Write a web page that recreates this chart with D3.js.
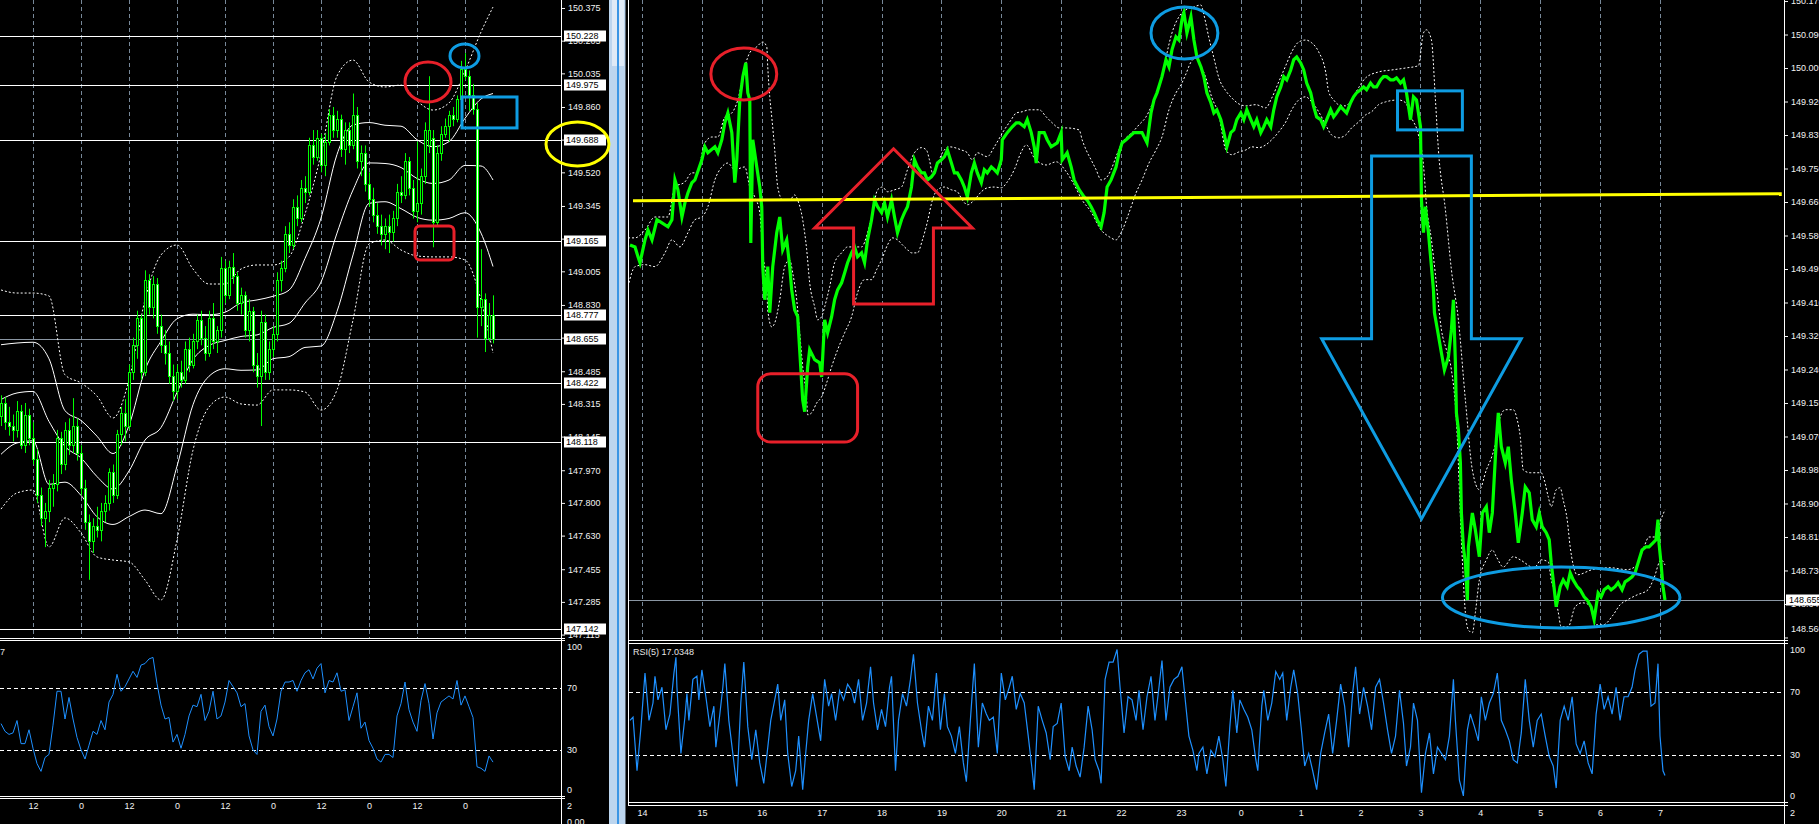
<!DOCTYPE html>
<html><head><meta charset="utf-8">
<script src="https://cdn.jsdelivr.net/npm/d3@7/dist/d3.min.js"></script>
<style>
html,body{margin:0;padding:0;background:#000;overflow:hidden;}
svg{display:block;}
text{font-family:"Liberation Sans",Arial,sans-serif;font-size:9px;}
</style></head><body>
<svg id="chart" width="1819" height="824"></svg>
<script>
// ---------------- LEFT CHART (H1 candles) ----------------
const leftOpen=[148.25,148.32,148.22,148.20,148.18,148.28,148.10,148.26,148.14,148.03,147.84,147.72,147.76,147.88,147.90,148.14,148.00,148.18,148.10,148.20,148.06,147.88,147.70,147.60,147.68,147.66,147.76,147.80,147.96,147.84,148.16,148.27,148.20,148.48,148.62,148.76,148.48,148.96,148.82,148.94,148.72,148.62,148.58,148.46,148.38,148.48,148.44,148.60,148.52,148.64,148.75,148.66,148.58,148.76,148.64,148.70,149.02,148.88,149.03,148.98,148.84,148.88,148.70,148.80,148.52,148.46,148.74,148.48,148.60,148.68,148.96,149.02,149.20,149.14,149.34,149.28,149.44,149.42,149.66,149.60,149.70,149.56,149.68,149.82,149.74,149.80,149.64,149.74,149.66,149.82,149.58,149.62,149.46,149.38,149.30,149.24,149.20,149.24,149.21,149.28,149.42,149.40,149.58,149.44,149.32,149.36,149.50,149.66,149.70,149.26,149.62,149.72,149.76,149.82,149.80,149.90,150.06,150.02,149.92,149.85,148.82,148.86,148.66,148.78];
const leftHigh=[148.36,148.35,148.30,148.26,148.33,148.31,148.32,148.29,148.22,148.08,147.88,147.80,147.92,147.95,148.18,148.17,148.22,148.24,148.345,148.24,148.10,147.92,147.74,147.72,147.78,147.80,147.84,147.98,148.00,148.18,148.30,148.34,148.52,148.66,148.80,148.78,149.01,148.99,148.98,148.97,148.78,148.70,148.64,148.52,148.52,148.54,148.64,148.66,148.68,148.78,148.80,148.72,148.80,148.84,148.72,149.08,149.06,149.06,149.10,149.00,148.92,148.90,148.86,148.82,148.58,148.80,148.78,148.64,148.72,149.00,149.06,149.24,149.26,149.38,149.40,149.48,149.50,149.70,149.74,149.74,149.72,149.72,149.85,149.86,149.84,149.82,149.78,149.78,149.93,149.86,149.66,149.66,149.52,149.44,149.36,149.30,149.28,149.30,149.32,149.46,149.50,149.62,149.60,149.48,149.68,149.54,149.78,150.02,149.74,149.66,149.76,149.80,149.84,149.86,149.92,150.10,150.14,150.05,149.98,149.88,149.12,148.89,148.84,148.88];
const leftLow=[148.20,148.18,148.15,148.12,148.14,148.08,148.06,148.10,148.00,147.80,147.68,147.57,147.70,147.78,147.86,147.95,147.97,148.05,148.06,148.02,147.84,147.66,147.40,147.54,147.62,147.60,147.70,147.76,147.80,147.82,148.10,148.12,148.18,148.44,148.55,148.44,148.46,148.78,148.76,148.68,148.58,148.52,148.42,148.33,148.34,148.40,148.42,148.48,148.50,148.60,148.62,148.54,148.56,148.60,148.58,148.66,148.84,148.86,148.94,148.80,148.78,148.66,148.64,148.48,148.40,148.20,148.44,148.44,148.56,148.64,148.90,149.00,149.10,149.12,149.24,149.26,149.36,149.40,149.56,149.58,149.52,149.50,149.66,149.70,149.70,149.60,149.56,149.62,149.64,149.54,149.50,149.42,149.34,149.26,149.20,149.14,149.12,149.10,149.16,149.24,149.36,149.38,149.40,149.28,149.26,149.30,149.46,149.62,149.13,149.24,149.58,149.70,149.68,149.76,149.78,149.88,150.00,149.84,149.82,148.66,148.72,148.585,148.64,148.63];
const leftClose=[148.32,148.22,148.20,148.18,148.28,148.10,148.26,148.14,148.03,147.84,147.72,147.76,147.88,147.90,148.14,148.00,148.18,148.10,148.20,148.06,147.88,147.70,147.60,147.68,147.66,147.76,147.80,147.96,147.84,148.16,148.27,148.20,148.48,148.62,148.76,148.48,148.96,148.82,148.94,148.72,148.62,148.58,148.46,148.38,148.48,148.44,148.60,148.52,148.64,148.75,148.66,148.58,148.76,148.64,148.70,149.02,148.88,149.03,148.98,148.84,148.88,148.70,148.80,148.52,148.46,148.74,148.48,148.60,148.68,148.96,149.02,149.20,149.14,149.34,149.28,149.44,149.42,149.66,149.60,149.70,149.56,149.68,149.82,149.74,149.80,149.64,149.74,149.66,149.82,149.58,149.62,149.46,149.38,149.30,149.24,149.20,149.24,149.21,149.28,149.42,149.40,149.58,149.44,149.32,149.36,149.50,149.74,149.74,149.26,149.62,149.72,149.76,149.82,149.80,149.90,150.06,150.02,149.92,149.85,148.82,148.86,148.66,148.78,148.655];
// Bollinger-style bands (sampled bar index)
const leftBandIdx=[0,4,8,12,16,20,24,28,32,36,40,44,48,52,56,60,64,68,72,76,80,84,88,92,96,100,104,108,112,116,120,123];
const leftUpperOuter=[148.908,148.892,148.892,148.877,148.466,148.424,148.356,148.242,148.440,148.856,149.090,149.142,149.017,148.939,148.939,149.017,149.038,149.038,149.080,149.303,149.615,150.021,150.104,149.990,149.964,149.974,149.891,149.844,149.881,150.047,150.250,150.380];
const leftUpperInner=[148.623,148.632,148.636,148.550,148.280,148.229,148.147,148.057,148.203,148.492,148.641,148.758,148.782,148.779,148.792,148.841,148.856,148.875,148.907,149.072,149.282,149.613,149.766,149.779,149.765,149.760,149.690,149.653,149.680,149.801,149.902,149.930];
const leftMiddle=[148.338,148.372,148.380,148.224,148.094,148.034,147.937,147.872,147.966,148.127,148.192,148.375,148.546,148.619,148.645,148.666,148.674,148.713,148.734,148.840,148.949,149.204,149.428,149.569,149.566,149.545,149.488,149.462,149.480,149.556,149.553,149.480];
const leftLowerInner=[148.053,148.112,148.123,147.897,147.908,147.839,147.728,147.688,147.729,147.763,147.744,147.991,148.311,148.459,148.498,148.490,148.492,148.550,148.561,148.609,148.616,148.796,149.090,149.358,149.367,149.331,149.286,149.271,149.280,149.310,149.204,149.030];
const leftLowerOuter=[147.768,147.852,147.867,147.571,147.722,147.644,147.519,147.503,147.493,147.399,147.295,147.607,148.075,148.299,148.351,148.315,148.309,148.388,148.388,148.377,148.283,148.388,148.752,149.147,149.168,149.116,149.085,149.080,149.080,149.064,148.856,148.580];
const leftRsi=[47,42,40,41,49,34,34,43,31,21,16,25,27,46,68,68,50,64,50,38,30,24,33,42,40,49,43,61,66,79,68,71,76,81,77,85,86,89,90,73,59,50,51,35,40,31,40,52,59,58,66,49,55,68,50,52,61,75,71,67,58,60,39,30,27,55,59,45,39,50,68,74,74,75,68,75,80,82,76,83,86,67,75,74,80,68,69,49,58,67,44,48,36,31,24,22,27,27,25,52,60,74,56,48,42,62,73,60,37,54,61,63,65,63,75,59,65,58,51,19,18,16,26,22];
const leftTicks=[150.375,150.205,150.035,149.860,149.690,149.520,149.345,149.175,149.005,148.830,148.660,148.485,148.315,148.145,147.970,147.800,147.630,147.455,147.285,147.115];
const leftLevels=[150.228,149.975,149.688,149.165,148.777,148.422,148.118,147.142];
const leftCurrent=148.655;
const leftTimeIdx=[8,20,32,44,56,68,80,92,104,116];
const leftTimeLabels=["12","0","12","0","12","0","12","0","12","0"];

// ---------------- RIGHT CHART (M1 line) [minute from 14:00, price] ----------------
const rightPrice=[[-12,149.556],[-7,149.551],[-4,149.526],[-2,149.511],[3,149.569],[6,149.594],[10,149.569],[15,149.620],[20,149.612],[26,149.602],[30,149.620],[33,149.721],[36,149.696],[40,149.627],[43,149.663],[46,149.688],[50,149.714],[53,149.721],[60,149.772],[63,149.805],[66,149.790],[73,149.805],[76,149.790],[80,149.823],[83,149.866],[86,149.891],[90,149.841],[93,149.714],[95,149.772],[98,149.924],[101,149.983],[104,150.018],[106,149.942],[108,149.924],[109,149.561],[111,149.823],[115,149.754],[118,149.703],[120,149.653],[121,149.501],[123,149.417],[126,149.501],[128,149.384],[131,149.501],[135,149.587],[138,149.627],[141,149.544],[145,149.569],[148,149.501],[150,149.442],[153,149.391],[156,149.374],[158,149.290],[161,149.163],[163,149.133],[166,149.247],[168,149.290],[173,149.265],[178,149.257],[180,149.221],[183,149.366],[186,149.333],[190,149.374],[193,149.417],[196,149.442],[200,149.460],[203,149.485],[206,149.511],[210,149.536],[213,149.551],[216,149.526],[220,149.536],[223,149.511],[226,149.569],[230,149.620],[233,149.670],[236,149.653],[240,149.638],[243,149.663],[246,149.627],[250,149.670],[253,149.627],[256,149.587],[260,149.620],[263,149.638],[266,149.653],[270,149.703],[273,149.772],[276,149.754],[280,149.739],[283,149.739],[286,149.721],[290,149.729],[293,149.739],[296,149.764],[300,149.772],[303,149.780],[306,149.797],[310,149.764],[313,149.739],[316,149.739],[320,149.721],[323,149.703],[326,149.678],[330,149.739],[333,149.764],[336,149.739],[340,149.714],[343,149.747],[346,149.739],[350,149.754],[353,149.747],[356,149.739],[360,149.772],[361,149.823],[366,149.841],[371,149.856],[375,149.866],[378,149.866],[383,149.856],[386,149.874],[390,149.841],[393,149.805],[395,149.764],[398,149.841],[403,149.841],[406,149.823],[410,149.805],[416,149.815],[420,149.841],[421,149.772],[426,149.790],[430,149.754],[433,149.721],[438,149.696],[443,149.678],[446,149.670],[450,149.653],[453,149.638],[456,149.620],[460,149.602],[463,149.638],[466,149.703],[470,149.721],[475,149.754],[478,149.790],[481,149.815],[485,149.823],[488,149.830],[493,149.841],[498,149.841],[501,149.841],[506,149.815],[510,149.891],[513,149.924],[516,149.942],[521,149.983],[525,150.026],[528,150.008],[531,150.051],[535,150.084],[538,150.076],[541,150.127],[543,150.145],[546,150.094],[550,150.135],[553,150.076],[556,150.033],[560,150.008],[563,149.983],[566,149.942],[570,149.917],[573,149.891],[576,149.899],[580,149.874],[583,149.841],[586,149.805],[590,149.841],[593,149.848],[596,149.874],[600,149.891],[603,149.874],[606,149.899],[610,149.874],[613,149.856],[616,149.874],[620,149.841],[623,149.856],[626,149.874],[630,149.856],[633,149.899],[636,149.932],[640,149.957],[643,149.983],[646,149.975],[650,150.000],[653,150.026],[656,150.033],[660,150.018],[663,150.000],[666,149.967],[670,149.942],[673,149.907],[676,149.881],[680,149.874],[683,149.856],[686,149.874],[690,149.899],[693,149.881],[696,149.891],[700,149.907],[703,149.899],[706,149.891],[710,149.917],[713,149.932],[716,149.942],[720,149.950],[723,149.957],[726,149.950],[730,149.967],[733,149.957],[736,149.957],[740,149.975],[743,149.983],[746,149.983],[750,149.975],[753,149.975],[756,149.980],[760,149.967],[763,149.975],[766,149.942],[770,149.874],[773,149.932],[776,149.924],[780,149.856],[781,149.670],[783,149.587],[785,149.653],[786,149.627],[788,149.587],[791,149.501],[793,149.442],[794,149.384],[797,149.341],[801,149.282],[804,149.239],[808,149.272],[811,149.341],[813,149.417],[815,149.257],[816,149.130],[818,149.087],[820,149.003],[821,148.876],[823,148.790],[825,148.749],[827,148.655],[828,148.790],[832,148.876],[835,148.833],[839,148.765],[842,148.876],[846,148.892],[849,148.826],[852,148.876],[856,149.061],[858,149.130],[861,149.044],[865,149.003],[868,149.044],[871,148.960],[875,148.876],[878,148.800],[882,148.876],[885,148.942],[889,148.927],[892,148.859],[896,148.841],[899,148.876],[902,148.841],[906,148.826],[909,148.808],[911,148.749],[913,148.706],[916,148.638],[920,148.689],[923,148.706],[927,148.689],[930,148.724],[933,148.706],[937,148.689],[940,148.681],[944,148.663],[947,148.655],[951,148.638],[954,148.605],[958,148.673],[961,148.663],[964,148.681],[968,148.689],[971,148.681],[975,148.689],[978,148.699],[982,148.681],[985,148.701],[988,148.706],[992,148.714],[995,148.724],[999,148.757],[1002,148.782],[1006,148.790],[1009,148.790],[1013,148.800],[1016,148.808],[1018,148.859],[1019,148.800],[1021,148.749],[1023,148.689],[1025,148.655]];
const rightUpper=[[-14,149.574],[-7,149.574],[3,149.594],[13,149.627],[26,149.627],[33,149.703],[43,149.716],[50,149.739],[55,149.739],[63,149.815],[70,149.830],[76,149.830],[83,149.881],[90,149.891],[96,149.924],[103,150.008],[108,150.044],[115,150.059],[121,150.071],[125,150.059],[126,150.008],[128,149.932],[130,149.881],[133,149.797],[136,149.703],[141,149.670],[148,149.670],[153,149.683],[156,149.670],[161,149.620],[165,149.544],[168,149.460],[173,149.399],[176,149.366],[180,149.374],[183,149.399],[188,149.450],[193,149.511],[200,149.536],[206,149.551],[220,149.551],[226,149.587],[231,149.638],[236,149.696],[241,149.703],[246,149.691],[253,149.696],[260,149.703],[266,149.747],[273,149.790],[280,149.803],[285,149.797],[288,149.772],[291,149.739],[295,149.754],[301,149.790],[308,149.805],[320,149.797],[326,149.790],[331,149.772],[336,149.790],[346,149.780],[353,149.805],[363,149.848],[370,149.874],[375,149.891],[381,149.894],[388,149.899],[398,149.899],[405,149.881],[411,149.866],[418,149.853],[425,149.853],[438,149.848],[441,149.823],[445,149.797],[450,149.772],[455,149.747],[460,149.721],[465,149.726],[470,149.747],[475,149.780],[480,149.810],[485,149.828],[491,149.841],[498,149.861],[505,149.881],[511,149.912],[518,149.955],[521,149.980],[525,150.031],[531,150.094],[538,150.135],[545,150.153],[551,150.158],[560,150.165],[563,150.140],[568,150.082],[573,150.031],[578,149.980],[585,149.947],[591,149.929],[598,149.914],[605,149.909],[615,149.912],[625,149.904],[631,149.929],[638,149.970],[645,150.011],[651,150.046],[658,150.071],[665,150.076],[671,150.069],[678,150.046],[685,149.995],[688,149.945],[693,149.924],[698,149.912],[705,149.909],[711,149.924],[718,149.955],[725,149.980],[738,149.995],[751,150.000],[765,150.005],[778,150.011],[783,150.094],[786,150.102],[791,150.076],[795,149.924],[798,149.797],[805,149.645],[811,149.493],[818,149.366],[825,149.163],[832,148.985],[839,148.935],[846,148.985],[852,149.023],[856,149.061],[859,149.112],[865,149.138],[873,149.138],[877,149.112],[880,149.069],[883,148.985],[890,148.978],[901,148.978],[904,148.960],[908,148.917],[911,148.892],[916,148.935],[920,148.940],[923,148.909],[927,148.859],[930,148.790],[933,148.744],[937,148.719],[952,148.732],[970,148.737],[987,148.732],[997,148.744],[1004,148.790],[1009,148.815],[1016,148.815],[1021,148.859],[1025,148.884]];
const rightLower=[[-14,149.450],[-7,149.501],[3,149.506],[13,149.501],[23,149.536],[30,149.569],[38,149.551],[46,149.587],[53,149.620],[60,149.627],[66,149.653],[73,149.721],[80,149.754],[86,149.764],[93,149.747],[103,149.754],[108,149.703],[113,149.678],[118,149.638],[121,149.536],[125,149.450],[126,149.391],[130,149.348],[133,149.358],[138,149.417],[143,149.501],[148,149.518],[151,149.485],[155,149.417],[158,149.333],[161,149.247],[165,149.163],[166,149.125],[170,149.130],[175,149.155],[180,149.171],[185,149.206],[190,149.247],[196,149.290],[203,149.333],[210,149.374],[216,149.435],[223,149.468],[230,149.468],[235,149.493],[240,149.518],[246,149.556],[251,149.574],[256,149.569],[261,149.556],[266,149.544],[270,149.536],[276,149.536],[281,149.569],[286,149.615],[291,149.670],[296,149.696],[303,149.703],[310,149.696],[316,149.691],[321,149.670],[326,149.658],[333,149.670],[340,149.691],[346,149.701],[353,149.703],[360,149.701],[366,149.716],[373,149.747],[380,149.792],[385,149.810],[393,149.777],[405,149.759],[415,149.767],[425,149.742],[433,149.709],[441,149.670],[450,149.640],[460,149.594],[468,149.577],[475,149.569],[480,149.587],[488,149.638],[495,149.688],[501,149.721],[508,149.764],[515,149.797],[521,149.830],[528,149.899],[535,149.942],[540,149.962],[545,149.990],[550,150.020],[555,150.030],[560,150.010],[565,149.980],[571,149.930],[578,149.886],[585,149.797],[591,149.785],[598,149.792],[605,149.797],[611,149.805],[618,149.803],[625,149.810],[631,149.823],[638,149.843],[645,149.868],[651,149.899],[658,149.924],[665,149.932],[671,149.919],[678,149.894],[685,149.861],[691,149.835],[698,149.828],[705,149.835],[711,149.853],[718,149.868],[725,149.886],[731,149.894],[738,149.912],[745,149.919],[758,149.924],[765,149.917],[771,149.879],[778,149.835],[783,149.759],[786,149.658],[791,149.569],[795,149.480],[798,149.404],[801,149.341],[806,149.290],[811,149.239],[816,149.112],[821,148.808],[825,148.623],[828,148.579],[832,148.572],[835,148.623],[839,148.706],[846,148.757],[852,148.782],[856,148.765],[863,148.739],[873,148.765],[880,148.757],[894,148.737],[901,148.757],[908,148.752],[911,148.706],[914,148.681],[918,148.625],[921,148.587],[928,148.587],[935,148.638],[942,148.648],[949,148.643],[956,148.592],[963,148.592],[973,148.617],[980,148.643],[987,148.655],[997,148.668],[1008,148.681],[1014,148.711],[1021,148.757],[1025,148.744]];
const rightRsi=[[-12,52],[-9,54],[-5,20],[-1,48],[3,82],[7,52],[11,63],[13,80],[16,65],[20,73],[24,46],[28,56],[32,82],[34,92],[35,73],[39,31],[43,54],[45,69],[47,52],[51,78],[55,80],[57,65],[60,84],[64,67],[68,48],[72,61],[74,35],[78,56],[81,73],[83,88],[87,52],[91,31],[95,10],[99,63],[102,89],[106,48],[110,27],[114,46],[118,25],[122,12],[125,29],[129,52],[133,65],[136,75],[139,52],[143,65],[146,31],[150,10],[154,20],[157,42],[161,8],[164,31],[167,52],[171,69],[175,54],[179,39],[183,78],[187,61],[190,69],[194,52],[198,71],[202,65],[206,75],[210,71],[213,63],[217,78],[221,52],[225,63],[229,86],[232,63],[236,46],[240,59],[244,48],[248,73],[250,80],[254,20],[257,52],[261,69],[265,61],[269,78],[272,94],[276,63],[280,46],[283,35],[287,61],[291,52],[295,82],[299,46],[303,69],[306,48],[310,42],[314,31],[318,48],[322,25],[325,13],[329,52],[333,88],[337,35],[341,63],[345,56],[348,52],[352,54],[356,31],[360,82],[364,65],[368,73],[371,80],[375,59],[379,69],[383,63],[387,42],[391,20],[393,8],[397,61],[401,52],[405,44],[409,27],[412,48],[416,50],[420,63],[424,29],[428,20],[431,35],[435,23],[439,16],[443,35],[447,61],[451,46],[454,27],[458,20],[460,12],[464,78],[468,89],[472,89],[476,97],[479,73],[483,44],[487,67],[491,65],[495,52],[498,71],[502,46],[506,67],[510,80],[514,52],[518,73],[521,90],[525,52],[529,73],[533,78],[537,80],[541,86],[544,67],[548,42],[552,33],[556,20],[558,31],[562,35],[566,18],[570,33],[574,29],[578,42],[582,27],[585,10],[589,48],[592,71],[596,44],[599,65],[603,59],[607,54],[611,46],[615,27],[617,20],[621,61],[623,71],[627,52],[631,63],[635,83],[639,78],[642,82],[646,52],[650,73],[653,84],[657,69],[661,44],[664,23],[668,31],[672,20],[676,8],[680,31],[684,44],[688,56],[692,31],[696,52],[700,75],[704,61],[708,35],[712,69],[715,86],[719,56],[723,73],[727,61],[731,46],[735,73],[739,78],[743,63],[747,46],[751,31],[755,42],[759,71],[763,50],[766,23],[770,35],[773,63],[777,52],[781,6],[785,31],[789,44],[793,18],[797,35],[801,31],[805,27],[809,42],[813,78],[815,52],[819,14],[823,4],[827,46],[830,56],[834,48],[838,39],[841,67],[845,52],[849,63],[853,69],[857,82],[861,52],[865,46],[869,39],[873,27],[877,25],[881,44],[885,78],[889,52],[893,35],[897,52],[901,56],[905,42],[909,29],[913,23],[916,9],[920,52],[924,61],[928,52],[932,67],[936,37],[940,31],[944,39],[948,25],[952,18],[956,56],[960,75],[964,59],[968,67],[972,56],[976,73],[980,52],[984,67],[988,67],[992,73],[995,84],[999,94],[1003,96],[1007,96],[1011,61],[1015,63],[1018,88],[1020,42],[1023,20],[1025,17]];
const rightTicks=[150.175,150.090,150.005,149.920,149.835,149.750,149.665,149.580,149.495,149.410,149.325,149.240,149.155,149.070,148.985,148.900,148.815,148.730,148.645,148.560];
const rightCurrent=148.655;
const rightHourMin=[0,60,120,180,240,300,360,420,480,540,600,660,720,780,840,900,960,1020];
const rightHourLabels=["14","15","16","17","18","19","20","21","22","23","0","1","2","3","4","5","6","7"];
const trendLine=[[-9,149.668],[1142,149.686]];
const rsiLevels=[100,70,30,0];

// annotations (data space)
const leftMarks=[
 {shape:"ellipse",color:"red",t:[101,112.5],p:[150.094,149.886]},
 {shape:"ellipse",color:"blue",t:[112.25,119.5],p:[150.188,150.063]},
 {shape:"rect",color:"blue",t:[115.25,129],p:[149.912,149.751],r:0},
 {shape:"ellipse",color:"yellow",t:[136.25,152],p:[149.782,149.553]},
 {shape:"rect",color:"red",t:[103.5,113.25],p:[149.241,149.064],r:5}
];
const rightMarks=[
 {shape:"ellipse",color:"red",t:[69,135],p:[150.056,149.924]},
 {shape:"rect",color:"red",t:[116,216],p:[149.229,149.056],r:13},
 {shape:"ellipse",color:"blue",t:[510,577],p:[150.160,150.028]},
 {shape:"rect",color:"blue",t:[757,822],p:[149.947,149.848],r:0},
 {shape:"ellipse",color:"blue",t:[802,1040],p:[148.739,148.584]}
];
const redArrow=[[252,149.800],[331,149.599],[292,149.599],[292,149.406],[212,149.406],[212,149.599],[173,149.599]];
const blueArrow=[[731,149.782],[831,149.782],[831,149.318],[881,149.318],[781,148.861],[681,149.318],[731,149.318]];

// ---------------- DRAW ----------------
const COL={red:"#e8202a",blue:"#0e9ce2",yellow:"#ffff00",lime:"#00ff00",rsi:"#1e90ff",grid:"#778899"};
const svg=d3.select("#chart");
svg.append("rect").attr("width",1819).attr("height",824).attr("fill","#000");
const defs=svg.append("defs");
function clip(id,x,y,w,h){defs.append("clipPath").attr("id",id).append("rect").attr("x",x).attr("y",y).attr("width",w).attr("height",h);}
clip("cLP",0,0,561,638);clip("cLR",0,641,561,155);clip("cRP",629,0,1155,640);clip("cRR",629,644,1155,158);

const Lx=d3.scaleLinear().domain([0,123]).range([1,493]);
const Ly=d3.scaleLinear().domain([147.0972,150.4166]).range([638,0]);
const Lr=d3.scaleLinear().domain([0,100]).range([796,642]);
const Rx=d3.scaleLinear().domain([0,1020]).range([642,1660]);
const Ry=d3.scaleLinear().domain([148.5536,150.1776]).range([640,0]);
const Rr=d3.scaleLinear().domain([0,100]).range([802.25,644.75]);
const px=v=>Math.round(v)+0.5;

// splitter between windows
svg.append("rect").attr("x",609).attr("y",0).attr("width",16).attr("height",824).attr("fill","#bcd5ee");
svg.append("rect").attr("x",612).attr("y",0).attr("width",12).attr("height",66).attr("fill","#dfeaf6");
svg.append("rect").attr("x",617).attr("y",0).attr("width",2).attr("height",824).attr("fill","#3a95e4");

// ===== LEFT =====
const gL=svg.append("g");
const gLP=gL.append("g").attr("clip-path","url(#cLP)");
gLP.selectAll("line.vg").data(leftTimeIdx).join("line").attr("x1",d=>px(Lx(d))).attr("x2",d=>px(Lx(d)))
 .attr("y1",0).attr("y2",638).attr("stroke",COL.grid).attr("stroke-dasharray","4,3");
gLP.selectAll("line.lv").data(leftLevels).join("line").attr("x1",0).attr("x2",561)
 .attr("y1",d=>px(Ly(d))).attr("y2",d=>px(Ly(d))).attr("stroke","#fff");
gLP.append("line").attr("x1",0).attr("x2",561).attr("y1",px(Ly(leftCurrent))).attr("y2",px(Ly(leftCurrent))).attr("stroke","#8a96a3");
const bandLine=(arr)=>d3.line().x((d,i)=>Lx(leftBandIdx[i])).y(d=>Ly(d)).curve(d3.curveMonotoneX)(arr);
[[leftUpperOuter,true],[leftLowerOuter,true],[leftUpperInner,false],[leftMiddle,false],[leftLowerInner,false]].forEach(([a,dot])=>{
 gLP.append("path").attr("d",bandLine(a)).attr("fill","none").attr("stroke","#fff").attr("stroke-width",1)
  .attr("stroke-dasharray",dot?"2,2":null);
});
const idx=d3.range(leftOpen.length);
gLP.selectAll("line.wick").data(idx).join("line").attr("x1",i=>Math.round(Lx(i))+0.5).attr("x2",i=>Math.round(Lx(i))+0.5)
 .attr("y1",i=>Ly(leftHigh[i])).attr("y2",i=>Ly(leftLow[i])).attr("stroke",COL.lime);
gLP.selectAll("rect.body").data(idx).join("rect")
 .attr("x",i=>Math.round(Lx(i))-0.5).attr("width",2)
 .attr("y",i=>Math.round(Ly(Math.max(leftOpen[i],leftClose[i])))+0.5)
 .attr("height",i=>Math.max(1,Math.round(Ly(Math.min(leftOpen[i],leftClose[i])))-Math.round(Ly(Math.max(leftOpen[i],leftClose[i])))))
 .attr("fill",i=>leftClose[i]>=leftOpen[i]?"#000":"#fff").attr("stroke",COL.lime);

// left price axis
const axL=gL.append("g").attr("transform","translate(561,0)").attr("color","#f2f2f2")
 .call(d3.axisRight(Ly).tickValues(leftTicks).tickSize(4).tickPadding(3).tickFormat(d3.format(".3f")));
axL.select(".domain").remove();
axL.selectAll("text").attr("font-size",9).attr("font-family","Liberation Sans, Arial, sans-serif");
gL.append("line").attr("x1",561.5).attr("x2",561.5).attr("y1",0).attr("y2",824).attr("stroke","#fff");
const boxL=gL.selectAll("g.box").data(leftLevels.concat([leftCurrent])).join("g").attr("transform",d=>`translate(564,${Math.round(Ly(d))})`);
boxL.append("rect").attr("x",0).attr("y",-5.5).attr("width",42).attr("height",11).attr("fill","#fff");
boxL.append("text").attr("x",2).attr("dy","0.34em").attr("fill","#000").text(d=>d3.format(".3f")(d));

// left RSI
const gLR=gL.append("g").attr("clip-path","url(#cLR)");
gLR.selectAll("line.lvl").data([70,30]).join("line").attr("x1",0).attr("x2",561).attr("y1",d=>px(Lr(d))).attr("y2",d=>px(Lr(d)))
 .attr("stroke","#fff").attr("stroke-dasharray","4,3");
gLR.append("path").attr("d",d3.line().x((d,i)=>Lx(i)).y(d=>Lr(d))(leftRsi)).attr("fill","none").attr("stroke",COL.rsi).attr("stroke-width",1);
gL.append("text").attr("x",0).attr("y",652).attr("dy","0.34em").attr("fill","#e6e6e6").text("7");
gL.selectAll("text.rl").data(rsiLevels).join("text").attr("x",567).attr("y",d=>Math.min(790,Math.max(647,Lr(d)))).attr("dy","0.34em")
 .attr("fill","#f2f2f2").text(d=>d);
[638.5,640.5,796.5,798.5].forEach(y=>gL.append("line").attr("x1",0).attr("x2",565).attr("y1",y).attr("y2",y).attr("stroke","#fff"));
const axLT=gL.append("g").attr("transform","translate(0,800)").attr("color","#f2f2f2")
 .call(d3.axisBottom(Lx).tickValues(leftTimeIdx).tickSize(0).tickPadding(3).tickFormat((d,i)=>leftTimeLabels[i]));
axLT.select(".domain").remove();
axLT.selectAll("text").attr("font-size",9).attr("font-family","Liberation Sans, Arial, sans-serif");
gL.append("text").attr("x",567).attr("y",806).attr("dy","0.34em").attr("fill","#f2f2f2").text("2");
gL.append("text").attr("x",567).attr("y",822).attr("dy","0.34em").attr("fill","#f2f2f2").text("0.00");

// ===== RIGHT =====
const gR=svg.append("g");
const gRP=gR.append("g").attr("clip-path","url(#cRP)");
gRP.selectAll("line.vg").data(rightHourMin).join("line").attr("x1",d=>px(Rx(d))).attr("x2",d=>px(Rx(d)))
 .attr("y1",0).attr("y2",640).attr("stroke",COL.grid).attr("stroke-dasharray","4,3");
gRP.append("line").attr("x1",629).attr("x2",1784).attr("y1",px(Ry(rightCurrent))).attr("y2",px(Ry(rightCurrent))).attr("stroke","#8a96a3");
const rl=d3.line().x(d=>Rx(d[0])).y(d=>Ry(d[1]));
[rightUpper,rightLower].forEach(a=>gRP.append("path").attr("d",rl.curve(d3.curveMonotoneX)(a)).attr("fill","none")
 .attr("stroke","#fff").attr("stroke-width",1).attr("stroke-dasharray","2,2"));
gRP.append("path").attr("d",d3.line().x(d=>Rx(d[0])).y(d=>Ry(d[1]))(rightPrice)).attr("fill","none")
 .attr("stroke",COL.lime).attr("stroke-width",3.2).attr("stroke-linejoin","miter").attr("stroke-miterlimit",6);
gRP.append("path").attr("d",d3.line().x(d=>Rx(d[0])).y(d=>Ry(d[1]))(trendLine)).attr("stroke",COL.yellow).attr("stroke-width",3).attr("fill","none");

// right axis
const axR=gR.append("g").attr("transform","translate(1784,0)").attr("color","#f2f2f2")
 .call(d3.axisRight(Ry).tickValues(rightTicks).tickSize(4).tickPadding(3).tickFormat(d3.format(".3f")));
axR.select(".domain").remove();
axR.selectAll("text").attr("font-size",9).attr("font-family","Liberation Sans, Arial, sans-serif")
 .attr("y",d=>Ry(d)>630?-9:0);
gR.append("line").attr("x1",1784.5).attr("x2",1784.5).attr("y1",0).attr("y2",824).attr("stroke","#fff");
const boxR=gR.append("g").attr("transform",`translate(1786,${Math.round(Ry(rightCurrent))})`);
boxR.append("rect").attr("x",0).attr("y",-5.5).attr("width",40).attr("height",11).attr("fill","#fff");
boxR.append("text").attr("x",3).attr("dy","0.34em").attr("fill","#000").text(d3.format(".3f")(rightCurrent));

// right RSI
const gRR=gR.append("g").attr("clip-path","url(#cRR)");
gRR.selectAll("line.lvl").data([70,30]).join("line").attr("x1",629).attr("x2",1784).attr("y1",d=>px(Rr(d))).attr("y2",d=>px(Rr(d)))
 .attr("stroke","#fff").attr("stroke-dasharray","4,3");
gRR.append("path").attr("d",d3.line().x(d=>Rx(d[0])).y(d=>Rr(d[1]))(rightRsi)).attr("fill","none").attr("stroke",COL.rsi).attr("stroke-width",1.2);
gR.append("text").attr("x",633).attr("y",652).attr("dy","0.34em").attr("fill","#e6e6e6").text("RSI(5) 17.0348");
gR.selectAll("text.rl").data(rsiLevels).join("text").attr("x",1790).attr("y",d=>Math.min(796,Math.max(650,Rr(d)))).attr("dy","0.34em")
 .attr("fill","#f2f2f2").text(d=>d);
[640.5,643.5,802.5,805.5].forEach(y=>gR.append("line").attr("x1",628).attr("x2",1788).attr("y1",y).attr("y2",y).attr("stroke","#fff"));
gR.append("line").attr("x1",628.5).attr("x2",628.5).attr("y1",0).attr("y2",806).attr("stroke","#fff");
gR.append("line").attr("x1",625.5).attr("x2",625.5).attr("y1",0).attr("y2",824).attr("stroke","#5a6570");
const axRT=gR.append("g").attr("transform","translate(0,807)").attr("color","#f2f2f2")
 .call(d3.axisBottom(Rx).tickValues(rightHourMin).tickSize(0).tickPadding(3).tickFormat((d,i)=>rightHourLabels[i]));
axRT.select(".domain").remove();
axRT.selectAll("text").attr("font-size",9).attr("font-family","Liberation Sans, Arial, sans-serif");
gR.append("text").attr("x",1790).attr("y",813).attr("dy","0.34em").attr("fill","#f2f2f2").text("2");

// ===== annotations =====
function drawMarks(g,marks,X,Y){
 marks.forEach(m=>{
  const x0=X(m.t[0]),x1=X(m.t[1]),y0=Y(m.p[0]),y1=Y(m.p[1]);
  if(m.shape==="ellipse"){
   g.append("ellipse").attr("cx",(x0+x1)/2).attr("cy",(y0+y1)/2).attr("rx",Math.abs(x1-x0)/2).attr("ry",Math.abs(y1-y0)/2)
    .attr("fill","none").attr("stroke",COL[m.color]).attr("stroke-width",3);
  }else{
   g.append("rect").attr("x",Math.min(x0,x1)).attr("y",Math.min(y0,y1)).attr("width",Math.abs(x1-x0)).attr("height",Math.abs(y1-y0))
    .attr("rx",m.r).attr("fill","none").attr("stroke",COL[m.color]).attr("stroke-width",3);
  }
 });
}
const gA=svg.append("g");
drawMarks(gA,leftMarks,Lx,Ly);
drawMarks(gA,rightMarks,Rx,Ry);
[[redArrow,"red"],[blueArrow,"blue"]].forEach(([pts,c])=>{
 gA.append("polygon").attr("points",pts.map(d=>Rx(d[0])+","+Ry(d[1])).join(" "))
  .attr("fill","none").attr("stroke",COL[c]).attr("stroke-width",3).attr("stroke-linejoin","miter");
});
</script>
</body></html>
